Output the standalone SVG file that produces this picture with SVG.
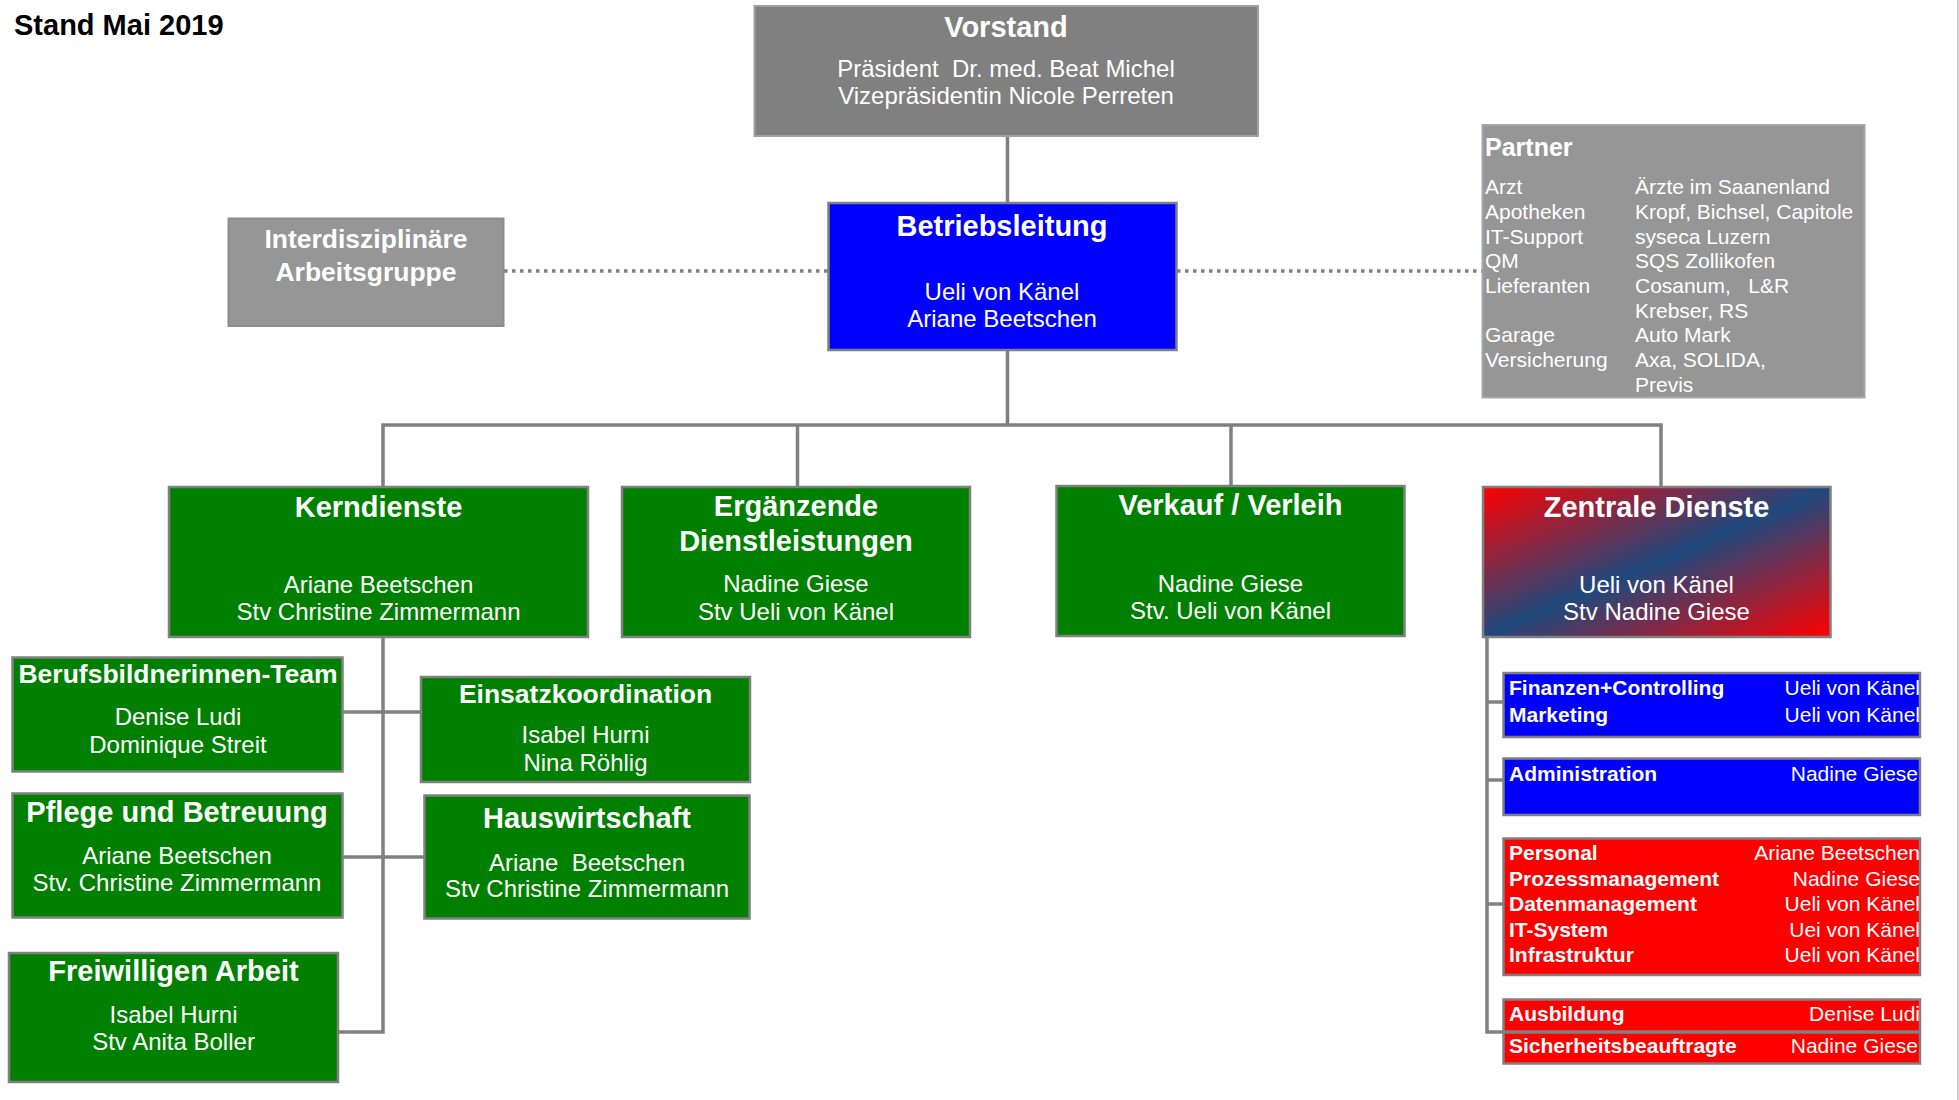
<svg xmlns="http://www.w3.org/2000/svg" width="1959" height="1100" viewBox="0 0 1959 1100">
<defs>
<linearGradient id="zdGrad" x1="0" y1="0" x2="1" y2="1">
<stop offset="0" stop-color="#ff0000"/>
<stop offset="0.5" stop-color="#1f497d"/>
<stop offset="1" stop-color="#ff0000"/>
</linearGradient>
<style>
text{font-family:"Liberation Sans",Arial,sans-serif;fill:#fff;white-space:pre}
.t{font-weight:bold;font-size:29px;text-anchor:middle}
.ts{font-weight:bold;font-size:26.5px;text-anchor:middle}
.n{font-size:24px;text-anchor:middle}
.p{font-size:21px}
.sb{font-size:21px;font-weight:bold}
.sr{font-size:21px;text-anchor:end}
.green{fill:#008000;stroke:#808080;stroke-width:2.5}
.gray{fill:#969696;stroke:#8c8c8c;stroke-width:2}
.blue{fill:#0000ff;stroke:#808080;stroke-width:2.5}
.red{fill:#ff0000;stroke:#808080;stroke-width:2.5}
.c{stroke:#808080;stroke-width:3.5;fill:none}
.d{stroke:#808080;stroke-width:3.5;fill:none;stroke-dasharray:3.5 4.5}
</style>
</defs>
<rect width="1959" height="1100" fill="#fff"/>
<line x1="1958" y1="0" x2="1958" y2="1100" stroke="#bfbfbf" stroke-width="1.5"/>
<text x="14" y="35" style="font-weight:bold;font-size:29px;fill:#000">Stand Mai 2019</text>

<g id="connectors">
<line class="c" x1="1007.5" y1="136" x2="1007.5" y2="203"/>
<line class="c" x1="1007.5" y1="350" x2="1007.5" y2="425"/>
<polyline class="c" points="383,487 383,425 1661,425 1661,487"/>
<line class="c" x1="797.5" y1="425" x2="797.5" y2="487"/>
<line class="c" x1="1231" y1="425" x2="1231" y2="486"/>
<line class="d" x1="504" y1="271" x2="828" y2="271"/>
<line class="d" x1="1177" y1="271" x2="1482" y2="271"/>
<polyline class="c" points="383,637 383,1032 338,1032"/>
<line class="c" x1="342" y1="712" x2="421" y2="712"/>
<line class="c" x1="342" y1="857" x2="424" y2="857"/>
<polyline class="c" points="1487,637 1487,1032 1503,1032"/>
<line class="c" x1="1487" y1="702" x2="1503" y2="702"/>
<line class="c" x1="1487" y1="780" x2="1503" y2="780"/>
<line class="c" x1="1487" y1="904" x2="1503" y2="904"/>
</g>

<g id="vorstand">
<rect x="754.5" y="6" width="503.5" height="130" fill="#808080" stroke="#a0a0a0" stroke-width="2"/>
<text class="t" x="1006" y="37">Vorstand</text>
<text class="n" x="1006" y="77">Präsident  Dr. med. Beat Michel</text>
<text class="n" x="1006" y="104">Vizepräsidentin Nicole Perreten</text>
</g>

<g id="betriebsleitung">
<rect class="blue" x="828.5" y="203" width="348" height="147"/>
<text class="t" x="1002" y="236">Betriebsleitung</text>
<text class="n" x="1002" y="300">Ueli von Känel</text>
<text class="n" x="1002" y="327">Ariane Beetschen</text>
</g>

<g id="interdisziplinaere">
<rect class="gray" x="228.5" y="218.5" width="275" height="107.5"/>
<text class="ts" x="366" y="248">Interdisziplinäre</text>
<text class="ts" x="366" y="281">Arbeitsgruppe</text>
</g>

<g id="partner">
<rect x="1482.5" y="125" width="382" height="272.5" fill="#969696" stroke="#a6a6a6" stroke-width="2"/>
<text x="1485" y="156" style="font-weight:bold;font-size:25px">Partner</text>
<text class="p" x="1485" y="194">Arzt</text>
<text class="p" x="1635" y="194">Ärzte im Saanenland</text>
<text class="p" x="1485" y="219">Apotheken</text>
<text class="p" x="1635" y="219">Kropf, Bichsel, Capitole</text>
<text class="p" x="1485" y="244">IT-Support</text>
<text class="p" x="1635" y="244">syseca Luzern</text>
<text class="p" x="1485" y="268">QM</text>
<text class="p" x="1635" y="268">SQS Zollikofen</text>
<text class="p" x="1485" y="293">Lieferanten</text>
<text class="p" x="1635" y="293">Cosanum,   L&amp;R</text>
<text class="p" x="1635" y="318">Krebser, RS</text>
<text class="p" x="1485" y="342">Garage</text>
<text class="p" x="1635" y="342">Auto Mark</text>
<text class="p" x="1485" y="367">Versicherung</text>
<text class="p" x="1635" y="367">Axa, SOLIDA,</text>
<text class="p" x="1635" y="392">Previs</text>
</g>

<g id="kerndienste">
<rect class="green" x="169" y="487" width="419" height="150"/>
<text class="t" x="378.5" y="517">Kerndienste</text>
<text class="n" x="378.5" y="593">Ariane Beetschen</text>
<text class="n" x="378.5" y="620">Stv Christine Zimmermann</text>
</g>

<g id="ergaenzende">
<rect class="green" x="622" y="487" width="348" height="150"/>
<text class="t" x="796" y="516">Ergänzende</text>
<text class="t" x="796" y="551">Dienstleistungen</text>
<text class="n" x="796" y="592">Nadine Giese</text>
<text class="n" x="796" y="620">Stv Ueli von Känel</text>
</g>

<g id="verkauf">
<rect class="green" x="1056.5" y="486" width="348" height="150"/>
<text class="t" x="1230.5" y="515">Verkauf / Verleih</text>
<text class="n" x="1230.5" y="592">Nadine Giese</text>
<text class="n" x="1230.5" y="619">Stv. Ueli von Känel</text>
</g>

<g id="zentrale-dienste">
<rect x="1483" y="487" width="347.5" height="150" fill="url(#zdGrad)" stroke="#808080" stroke-width="2.5"/>
<text class="t" x="1656.5" y="517">Zentrale Dienste</text>
<text class="n" x="1656.5" y="593">Ueli von Känel</text>
<text class="n" x="1656.5" y="620">Stv Nadine Giese</text>
</g>

<g id="berufsbildnerinnen">
<rect class="green" x="12.5" y="657.5" width="330" height="114"/>
<text class="ts" x="178" y="683">Berufsbildnerinnen-Team</text>
<text class="n" x="178" y="725">Denise Ludi</text>
<text class="n" x="178" y="753">Dominique Streit</text>
</g>

<g id="pflege">
<rect class="green" x="12.5" y="793.5" width="330" height="124"/>
<text class="t" x="177" y="822">Pflege und Betreuung</text>
<text class="n" x="177" y="864">Ariane Beetschen</text>
<text class="n" x="177" y="891">Stv. Christine Zimmermann</text>
</g>

<g id="freiwilligen">
<rect class="green" x="9" y="953" width="329" height="129"/>
<text class="t" x="173.5" y="981">Freiwilligen Arbeit</text>
<text class="n" x="173.5" y="1023">Isabel Hurni</text>
<text class="n" x="173.5" y="1050">Stv Anita Boller</text>
</g>

<g id="einsatzkoordination">
<rect class="green" x="421" y="677" width="329" height="105"/>
<text class="ts" x="585.5" y="703">Einsatzkoordination</text>
<text class="n" x="585.5" y="743">Isabel Hurni</text>
<text class="n" x="585.5" y="771">Nina Röhlig</text>
</g>

<g id="hauswirtschaft">
<rect class="green" x="424.5" y="795.5" width="325" height="123"/>
<text class="t" x="587" y="828">Hauswirtschaft</text>
<text class="n" x="587" y="871">Ariane  Beetschen</text>
<text class="n" x="587" y="897">Stv Christine Zimmermann</text>
</g>

<g id="finanzen">
<rect class="blue" x="1503.5" y="673" width="416.5" height="64"/>
<text class="sb" x="1509" y="695">Finanzen+Controlling</text>
<text class="sr" x="1920" y="695">Ueli von Känel</text>
<text class="sb" x="1509" y="722">Marketing</text>
<text class="sr" x="1920" y="722">Ueli von Känel</text>
</g>

<g id="administration">
<rect class="blue" x="1503.5" y="758.5" width="416.5" height="56.5"/>
<text class="sb" x="1509" y="781">Administration</text>
<text class="sr" x="1918" y="781">Nadine Giese</text>
</g>

<g id="personal">
<rect class="red" x="1503.5" y="838.5" width="416.5" height="136.5"/>
<text class="sb" x="1509" y="860">Personal</text>
<text class="sr" x="1920" y="860">Ariane Beetschen</text>
<text class="sb" x="1509" y="886">Prozessmanagement</text>
<text class="sr" x="1920" y="886">Nadine Giese</text>
<text class="sb" x="1509" y="911">Datenmanagement</text>
<text class="sr" x="1920" y="911">Ueli von Känel</text>
<text class="sb" x="1509" y="937">IT-System</text>
<text class="sr" x="1920" y="937">Uei von Känel</text>
<text class="sb" x="1509" y="962">Infrastruktur</text>
<text class="sr" x="1920" y="962">Ueli von Känel</text>
</g>

<g id="ausbildung">
<rect class="red" x="1503.5" y="999.5" width="416.5" height="32"/>
<text class="sb" x="1509" y="1021">Ausbildung</text>
<text class="sr" x="1920" y="1021">Denise Ludi</text>
</g>

<g id="sicherheitsbeauftragte">
<rect class="red" x="1503.5" y="1032.5" width="416.5" height="31"/>
<text class="sb" x="1509" y="1053">Sicherheitsbeauftragte</text>
<text class="sr" x="1918" y="1053">Nadine Giese</text>
</g>
</svg>
